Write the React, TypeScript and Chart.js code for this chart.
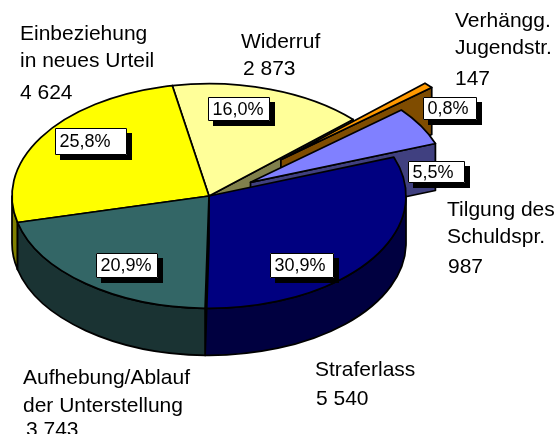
import React, { useEffect, useRef } from "react";
import { Chart, registerables } from "chart.js";

Chart.register(...registerables);

const categories = ["Straferlass", "Aufhebung/Ablauf der Unterstellung", "Einbeziehung in neues Urteil", "Widerruf", "Verhängg. Jugendstr.", "Tilgung des Schuldspr."];
const values = [5540, 3743, 4624, 2873, 147, 987];
const percentLabels = ["30,9%", "20,9%", "25,8%", "16,0%", "0,8%", "5,5%"];
const topColors = ["#000080", "#336666", "#FFFF00", "#FFFF99", "#FF9900", "#8080FF"];
const sideColors = ["#000040", "#1A3333", "#808000", "#80804C", "#7F4C00", "#404080"];
const explode = [0, 0, 0, 0, 96, 48];
const paintOrder = [3, 2, 4, 5, 0, 1];

const SQUASH = 0.57;
const DEPTH = 47;
const FONT = '18px "Liberation Sans", Arial, sans-serif';
const OUTER_FONT = '21px "Liberation Sans", Arial, sans-serif';

const percentBoxes = [
  { x: 270, y: 253, w: 64, h: 25 },
  { x: 96, y: 253, w: 62, h: 25 },
  { x: 55, y: 128, w: 72, h: 27 },
  { x: 208, y: 97, w: 62, h: 24 },
  { x: 423, y: 97, w: 54, h: 23 },
  { x: 408, y: 161, w: 57, h: 22 },
];
const outerLabels = [
  { x: 20, y: 40, t: "Einbeziehung" },
  { x: 20, y: 67, t: "in neues Urteil" },
  { x: 20, y: 99, t: "4 624" },
  { x: 241, y: 48, t: "Widerruf" },
  { x: 243, y: 75, t: "2 873" },
  { x: 455, y: 27, t: "Verhängg." },
  { x: 455, y: 54, t: "Jugendstr." },
  { x: 455, y: 85, t: "147" },
  { x: 447, y: 216, t: "Tilgung des" },
  { x: 447, y: 243, t: "Schuldspr." },
  { x: 448, y: 273, t: "987" },
  { x: 315, y: 376, t: "Straferlass" },
  { x: 316, y: 405, t: "5 540" },
  { x: 23, y: 384, t: "Aufhebung/Ablauf" },
  { x: 23, y: 412, t: "der Unterstellung" },
  { x: 26, y: 436, t: "3 743" },
];

const pie3d = {
  id: "pie3d",
  beforeDatasetsDraw(chart: any) {
    const ctx: CanvasRenderingContext2D = chart.ctx;
    const arcs = chart.getDatasetMeta(0).data;
    ctx.save();
    ctx.lineWidth = 1.75;
    ctx.lineJoin = "round";
    ctx.strokeStyle = "#000";
    for (const i of paintOrder) {
      const a = arcs[i];
      const r = a.outerRadius;
      const mid = (a.startAngle + a.endAngle) / 2;
      const cx = a.x + Math.cos(mid) * explode[i];
      const cy = a.y + Math.sin(mid) * explode[i] * SQUASH;
      const ry = r * SQUASH;
      const px = (t: number) => cx + Math.cos(t) * r;
      const py = (t: number) => cy + Math.sin(t) * ry;
      ctx.fillStyle = sideColors[i];
      const faces = [
        { t: a.startAngle, show: Math.cos(a.startAngle) < 0 },
        { t: a.endAngle, show: Math.cos(a.endAngle) > 0 },
      ];
      for (const f of faces) {
        if (!f.show) continue;
        ctx.beginPath();
        ctx.moveTo(cx, cy);
        ctx.lineTo(px(f.t), py(f.t));
        ctx.lineTo(px(f.t), py(f.t) + DEPTH);
        ctx.lineTo(cx, cy + DEPTH);
        ctx.closePath();
        ctx.fill();
        ctx.stroke();
      }
      // outer wall: only the part on the front half of the ellipse
      for (let k = -1; k <= 2; k++) {
        const lo = Math.max(a.startAngle, 2 * Math.PI * k);
        const hi = Math.min(a.endAngle, 2 * Math.PI * k + Math.PI);
        if (hi <= lo) continue;
        ctx.beginPath();
        ctx.ellipse(cx, cy, r, ry, 0, lo, hi);
        ctx.ellipse(cx, cy + DEPTH, r, ry, 0, hi, lo, true);
        ctx.closePath();
        ctx.fill();
        ctx.stroke();
      }
      ctx.fillStyle = topColors[i];
      ctx.beginPath();
      ctx.moveTo(cx, cy);
      ctx.ellipse(cx, cy, r, ry, 0, a.startAngle, a.endAngle);
      ctx.closePath();
      ctx.fill();
      ctx.stroke();
    }
    ctx.font = FONT;
    ctx.textBaseline = "middle";
    ctx.textAlign = "left";
    percentBoxes.forEach((b, i) => {
      ctx.fillStyle = "#000";
      ctx.fillRect(b.x + 5, b.y + 5, b.w, b.h);
      ctx.fillStyle = "#fff";
      ctx.fillRect(b.x, b.y, b.w, b.h);
      ctx.lineWidth = 1;
      ctx.strokeRect(b.x + 0.5, b.y + 0.5, b.w - 1, b.h - 1);
      ctx.fillStyle = "#000";
      ctx.fillText(percentLabels[i], b.x + 4.5, b.y + b.h / 2 + 1);
    });
    ctx.font = OUTER_FONT;
    ctx.textBaseline = "alphabetic";
    ctx.fillStyle = "#000";
    outerLabels.forEach((l) => ctx.fillText(l.t, l.x, l.y));
    ctx.restore();
    return false;
  },
};

export default function App() {
  const ref = useRef<HTMLCanvasElement>(null);
  useEffect(() => {
    const chart = new Chart(ref.current!, {
      type: "pie",
      data: {
        labels: categories,
        datasets: [{ data: values, backgroundColor: topColors, borderWidth: 0 }],
      },
      options: {
        animation: false,
        responsive: false,
        events: [],
        rotation: 69.8,
        radius: 197,
        layout: { padding: { left: 0, top: 0, right: 138, bottom: 42 } },
        plugins: { legend: { display: false }, tooltip: { enabled: false } },
      },
      plugins: [pie3d],
    } as any);
    return () => chart.destroy();
  }, []);
  return (
    <canvas
      ref={ref}
      width={556}
      height={434}
      style={{ position: "absolute", left: 0, top: 0, width: 556, height: 434 }}
    />
  );
}
